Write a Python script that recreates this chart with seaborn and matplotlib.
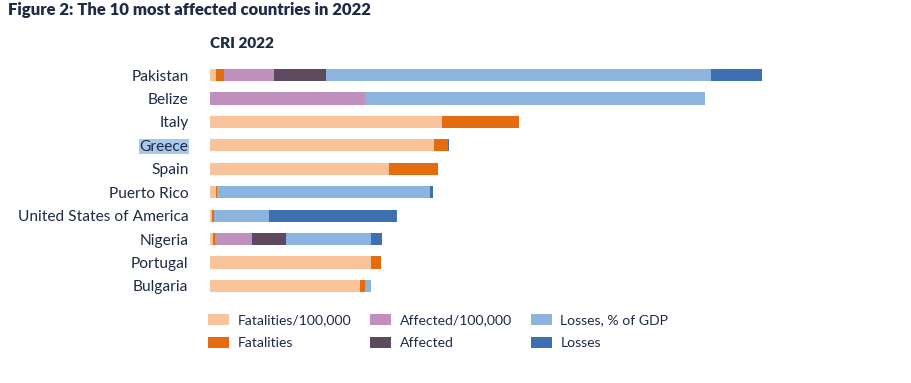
import numpy as np
import pandas as pd
import matplotlib
matplotlib.use("Agg")
import matplotlib.pyplot as plt
import seaborn as sns
from matplotlib.patches import Patch

# Segment lengths (in arbitrary CRI units)
countries = ["Pakistan", "Belize", "Italy", "Greece", "Spain", "Puerto Rico",
             "United States of America", "Nigeria", "Portugal", "Bulgaria"]
fatalities_rel = [6, 0, 232, 224, 179, 6.5, 2, 3, 161, 150]
fatalities_abs = [8, 0, 77, 14.5, 49, 0.5, 2.5, 2, 10, 5]
affected_rel = [50, 155, 0, 0, 0, 0, 0, 37, 0, 0]
affected_abs = [52, 0, 0, 0, 0, 0, 0, 34, 0, 0]
losses_rel = [385, 340, 0, 0, 0, 213.5, 54.5, 85, 0, 6]
losses_abs = [51, 0, 0, 1, 0, 3, 128, 11, 0, 0]

series = ["Fatalities/100,000", "Fatalities", "Affected/100,000",
          "Affected", "Losses, % of GDP", "Losses"]
colors = ["#f8c39b", "#e46c0e", "#bf8fbe", "#5d4a5e", "#8db4de", "#3e6fb1"]

df = pd.DataFrame({"country": countries,
                   series[0]: fatalities_rel, series[1]: fatalities_abs,
                   series[2]: affected_rel, series[3]: affected_abs,
                   series[4]: losses_rel, series[5]: losses_abs})
cum = df[series].cumsum(axis=1)
cum["country"] = df["country"]

sns.set_style("white")
plt.rcParams["font.family"] = ["Lato", "DejaVu Sans"]
text_color = "#1e2b45"

fig = plt.figure(figsize=(9.12, 3.83), dpi=100)
ax = fig.add_axes([210 / 912, 1 - 297.7 / 383, 590 / 912, (297.7 - 63.3) / 383])

# stacked bars: draw cumulative totals from the outermost segment inward
for name, col in reversed(list(zip(series, colors))):
    sns.barplot(data=cum, x=name, y="country", color=col, width=0.52,
                saturation=1, linewidth=0, ax=ax, orient="h")

ax.set_xlim(0, 590)
ax.set_xlabel("")
ax.set_ylabel("")
ax.set_xticks([])
sns.despine(ax=ax, left=True, bottom=True)
ax.tick_params(axis="y", length=0, pad=15.5, labelsize=11.2, labelcolor=text_color)
for lab in ax.get_yticklabels():
    if lab.get_text() == "Greece":
        lab.set_bbox(dict(facecolor="#a9c9ea", edgecolor="none", pad=0.5))

fig.text(8 / 912, 1 - 10 / 383, "Figure 2: The 10 most affected countries in 2022",
         fontsize=12, fontweight="heavy", color=text_color, va="center", ha="left")
fig.text(210 / 912, 1 - 44 / 383, "CRI 2022", fontsize=11, fontweight="heavy",
         color=text_color, va="center", ha="left")

handles = [Patch(facecolor=c, edgecolor="none") for c in colors]
leg = fig.legend(handles, series, ncol=3, loc="upper left",
                 bbox_to_anchor=(208 / 912, 1 - 314 / 383), frameon=False,
                 borderaxespad=0, borderpad=0,
                 fontsize=10.1, handlelength=1.5, handleheight=0.85,
                 columnspacing=1.35, labelspacing=0.75, handletextpad=0.6)
for t in leg.get_texts():
    t.set_color(text_color)

fig.savefig("out.png", dpi=100)
